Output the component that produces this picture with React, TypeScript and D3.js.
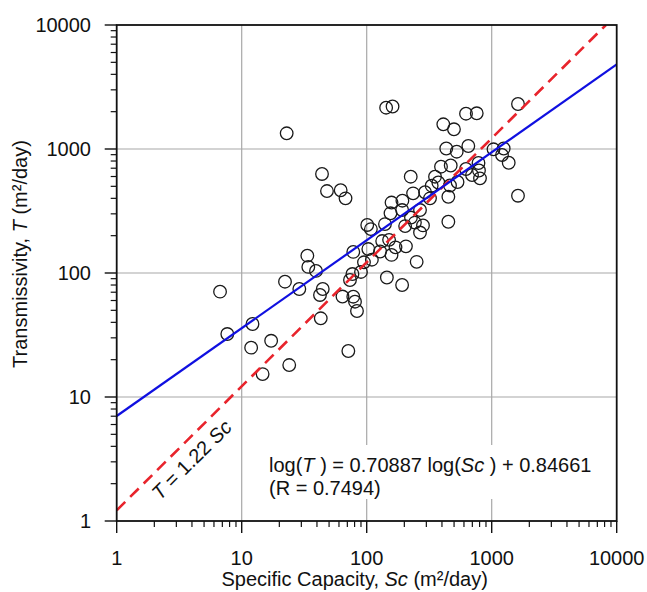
import React from "react";
import * as d3 from "d3";

const scValues = [6.71, 7.67, 12.2, 11.9, 17.2, 14.7, 24.0, 22.2, 28.9, 33.5, 34.1, 39.3, 44.5, 42.3, 42.9, 64.0, 78.1, 80.6, 83.6, 71.3,
  22.9, 43.9, 48.1, 61.9, 67.7, 143, 161, 623, 759, 1623,
  410, 499, 433, 525, 650, 1034, 1247, 1209, 1368, 1623,
  225, 393, 470, 623, 696, 784, 791, 806,
  352, 374, 331, 464, 533, 293, 235, 450, 321,
  158, 193, 192, 155, 267, 226, 243, 203, 282, 267, 450,
  101, 108, 140, 133, 151, 170, 206, 128, 158, 103, 78.1, 110, 95.1, 251, 90.0, 76.9, 73.5, 145, 192];
const tValues = [70.7, 32.2, 38.8, 25.0, 28.4, 15.3, 18.1, 85.1, 74.3, 138, 112, 104, 74.3, 66.5, 43.1, 64.6, 64.4, 58.7, 49.4, 23.5,
  1338, 629, 458, 465, 400, 2153, 2201, 1926, 1941, 2306,
  1582, 1442, 1009, 951, 1057, 994, 1009, 895, 775, 420,
  598, 720, 736, 690, 617, 771, 671, 580,
  598, 537, 506, 508, 542, 448, 439, 412, 400,
  370, 383, 322, 303, 322, 280, 255, 239, 242, 212, 259,
  244, 226, 248, 181, 185, 161, 164, 149, 140, 156, 148, 128, 122, 123, 102, 98.1, 87.8, 92.0, 80.0];

const majorTicks = [1, 10, 100, 1000, 10000];
const tickLabels = ["1", "10", "100", "1000", "10000"];
const regSlope = 0.70887;
const regIntercept = 0.84661;
const ratioCoef = 1.22;

const FONT = "'Liberation Sans', Arial, sans-serif";

export default function App() {
  const W = 647, H = 592;
  const x = d3.scaleLog().domain([1, 10000]).range([116.7, 616.7]);
  const y = d3.scaleLog().domain([1, 10000]).range([521, 25]);
  const [x0, x1] = x.range();
  const [y0, y1] = y.range();

  const minor: number[] = [];
  majorTicks.slice(0, -1).forEach((d) => {
    for (let k = 2; k <= 9; k++) minor.push(d * k);
  });

  const line = d3.line<[number, number]>().x((d) => x(d[0])).y((d) => y(d[1]));
  const regPts: [number, number][] = [1, 10000].map((s) => [s, Math.pow(10, regSlope * Math.log10(s) + regIntercept)]);
  const ratioPts: [number, number][] = [1, 10000 / ratioCoef].map((s) => [s, ratioCoef * s]);

  const angle = (-Math.atan2(y(10) - y(100), x(100) - x(10)) * 180) / Math.PI;
  const lblX = 160, lblY = 501;

  return (
    <svg width={W} height={H} style={{ position: "absolute", left: 0, top: 0, background: "#fff" }} fontFamily={FONT}>
      <rect x={0} y={0} width={W} height={H} fill="#fff" />
      <defs>
        <clipPath id="plotclip">
          <rect x={x0} y={y1} width={x1 - x0} height={y0 - y1} />
        </clipPath>
      </defs>
      {majorTicks.slice(1, -1).map((t) => (
        <g key={"g" + t}>
          <line x1={x(t)} x2={x(t)} y1={y1} y2={y0} stroke="#a8a8a8" strokeWidth={1.2} />
          <line x1={x0} x2={x1} y1={y(t)} y2={y(t)} stroke="#a8a8a8" strokeWidth={1.2} />
        </g>
      ))}
      <rect x={265} y={445} width={340} height={54} fill="#fff" />
      <g clipPath="url(#plotclip)">
        {scValues.map((s, i) => (
          <circle key={i} cx={x(s)} cy={y(tValues[i])} r={6.3} fill="none" stroke="#1a1a1a" strokeWidth={1.3} />
        ))}
        <path d={line(ratioPts) || ""} fill="none" stroke="#e8242c" strokeWidth={2.6} strokeDasharray="12,7" />
        <path d={line(regPts) || ""} fill="none" stroke="#1010e0" strokeWidth={2.2} />
      </g>
      <rect x={x0} y={y1} width={x1 - x0} height={y0 - y1} fill="none" stroke="#111" strokeWidth={1.8} />
      {majorTicks.map((t, i) => (
        <g key={"xt" + t}>
          <line x1={x(t)} x2={x(t)} y1={y0} y2={y0 + 12} stroke="#111" strokeWidth={1.4} />
          <text x={x(t)} y={565} fontSize={20} textAnchor="middle" fill="#111">{tickLabels[i]}</text>
        </g>
      ))}
      {minor.map((t) => (
        <line key={"xm" + t} x1={x(t)} x2={x(t)} y1={y0} y2={y0 + 6} stroke="#111" strokeWidth={1.2} />
      ))}
      {majorTicks.map((t, i) => (
        <g key={"yt" + t}>
          <line x1={x0 - 12} x2={x0} y1={y(t)} y2={y(t)} stroke="#111" strokeWidth={1.4} />
          <text x={91} y={y(t) + 7} fontSize={20} textAnchor="end" fill="#111">{tickLabels[i]}</text>
        </g>
      ))}
      {minor.map((t) => (
        <line key={"ym" + t} x1={x0 - 6} x2={x0} y1={y(t)} y2={y(t)} stroke="#111" strokeWidth={1.2} />
      ))}
      <text x={(x0 + x1) / 2 - 12} y={586} fontSize={20} textAnchor="middle" fill="#111">
        Specific Capacity, <tspan fontStyle="italic">Sc</tspan> (m²/day)
      </text>
      <text transform="translate(27,254) rotate(-90)" fontSize={20} textAnchor="middle" fill="#111">
        Transmissivity, <tspan fontStyle="italic">T</tspan> (m²/day)
      </text>
      <text x={269} y={472} fontSize={20} fill="#111">
        log(<tspan fontStyle="italic">T</tspan> ) = 0.70887 log(<tspan fontStyle="italic">Sc</tspan> ) + 0.84661
      </text>
      <text x={269} y={495} fontSize={20} fill="#111">(R = 0.7494)</text>
      <text transform={`translate(${lblX},${lblY}) rotate(${angle})`} fontSize={20} fill="#111">
        <tspan fontStyle="italic">T</tspan> = 1.22 <tspan fontStyle="italic">Sc</tspan>
      </text>
    </svg>
  );
}
